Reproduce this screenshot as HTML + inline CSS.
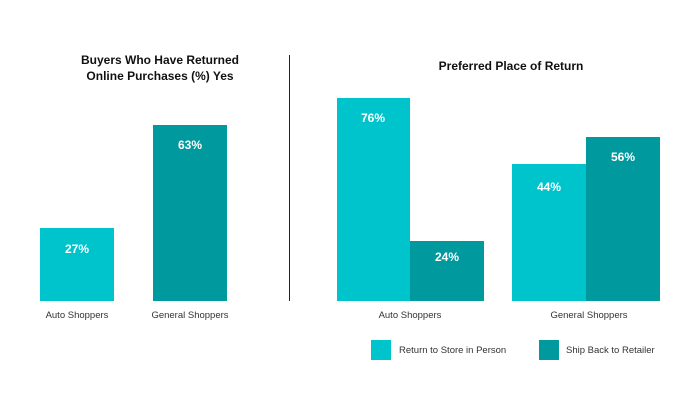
<!DOCTYPE html>
<html><head><style>
body{margin:0;background:#fff;}
svg text{font-family:"Liberation Sans",sans-serif;}
</style></head><body>
<svg width="700" height="400" xmlns="http://www.w3.org/2000/svg">
<rect width="700" height="400" fill="#fff"/>
<g font-weight="bold" font-size="12" fill="#111" text-anchor="middle">
<text x="160" y="64">Buyers Who Have Returned</text>
<text x="160" y="80">Online Purchases (%) Yes</text>
<text x="511" y="70">Preferred Place of Return</text>
</g>
<line x1="289.5" y1="55" x2="289.5" y2="301" stroke="#222" stroke-width="1"/>
<rect x="40" y="228" width="74" height="73" fill="#00C4CC"/>
<rect x="153" y="125" width="74" height="176" fill="#00999E"/>
<rect x="337" y="98" width="73" height="203" fill="#00C4CC"/>
<rect x="410" y="241" width="74" height="60" fill="#00999E"/>
<rect x="512" y="164" width="74" height="137" fill="#00C4CC"/>
<rect x="586" y="137" width="74" height="164" fill="#00999E"/>
<g font-weight="bold" font-size="12" fill="#fff" text-anchor="middle">
<text x="77" y="253">27%</text>
<text x="190" y="149">63%</text>
<text x="373" y="122">76%</text>
<text x="447" y="261">24%</text>
<text x="549" y="191">44%</text>
<text x="623" y="161">56%</text>
</g>
<g font-size="9.5" fill="#333" text-anchor="middle">
<text x="77" y="318">Auto Shoppers</text>
<text x="190" y="318">General Shoppers</text>
<text x="410" y="318">Auto Shoppers</text>
<text x="589" y="318">General Shoppers</text>
</g>
<rect x="371" y="340" width="20" height="20" fill="#00C4CC"/>
<rect x="539" y="340" width="20" height="20" fill="#00999E"/>
<g font-size="9.5" fill="#333">
<text x="399" y="353">Return to Store in Person</text>
<text x="566" y="353">Ship Back to Retailer</text>
</g>
</svg>
</body></html>
